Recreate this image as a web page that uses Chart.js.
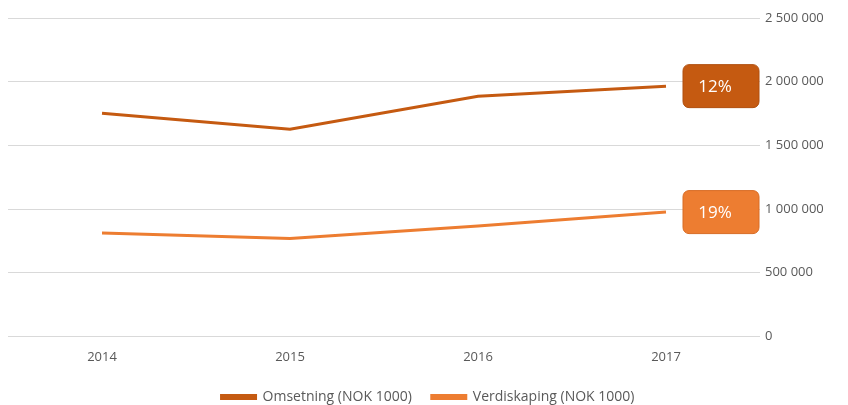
<!DOCTYPE html>
<html>
<head>
<meta charset="utf-8">
<script src="https://cdn.jsdelivr.net/npm/chart.js@4.4.1/dist/chart.umd.min.js"></script>
<style>
  html, body { margin: 0; padding: 0; background: #fff; }
  #wrap { width: 848px; height: 405px; }
</style>
</head>
<body>
<div id="wrap"><canvas id="lineChart"></canvas></div>
<script>
const years = ['2014', '2015', '2016', '2017'];
const omsetning = [1752000, 1626000, 1886000, 1965000];
const verdiskaping = [812000, 768000, 866000, 976000];
const growthLabels = ['12%', '19%'];
const seriesNames = ['Omsetning (NOK 1000)', 'Verdiskaping (NOK 1000)'];
const colors = ['#C55A11', '#ED7D31'];

// boxes with growth % next to the last point of each line
const endLabels = {
    id: 'endLabels',
    afterDatasetsDraw(chart) {
        const ctx = chart.ctx;
        chart.data.datasets.forEach((ds, i) => {
            const meta = chart.getDatasetMeta(i);
            const last = meta.data[meta.data.length - 1];
            const w = 76, h = 43;
            const x = last.x + 17;
            const y = last.y - h / 2;
            ctx.save();
            ctx.fillStyle = colors[i];
            ctx.strokeStyle = i === 0 ? '#B04F0E' : '#D86C25';
            ctx.lineWidth = 1;
            ctx.beginPath();
            ctx.roundRect(x, y, w, h, 6);
            ctx.fill();
            ctx.stroke();
            ctx.fillStyle = '#fff';
            ctx.font = '17px "Open Sans", sans-serif';
            ctx.textAlign = 'center';
            ctx.textBaseline = 'middle';
            ctx.fillText(growthLabels[i], x + w / 2 - 6, y + h / 2 + 1);
            ctx.restore();
        });
    }
};

const ctx = document.getElementById('lineChart').getContext('2d');

const chart = new Chart(ctx, {
    type: 'line',
    data: {
        labels: years,
        datasets: [{
            label: seriesNames[0],
            data: omsetning,
            borderColor: colors[0],
            backgroundColor: colors[0],
            borderWidth: 3,
            pointRadius: 0,
            tension: 0
        }, {
            label: seriesNames[1],
            data: verdiskaping,
            borderColor: colors[1],
            backgroundColor: colors[1],
            borderWidth: 3,
            pointRadius: 0,
            tension: 0
        }]
    },
    options: {
        responsive: true,
        maintainAspectRatio: false,
        animation: false,
        layout: { padding: { left: 8, top: 18, right: 0, bottom: -9 } },
        plugins: {
            legend: {
                position: 'bottom',
                labels: {
                    boxWidth: 34,
                    boxHeight: 3,
                    padding: 20,
                    color: '#595959',
                    font: { family: '"Open Sans", sans-serif', size: 14 }
                }
            },
            tooltip: { enabled: false }
        },
        scales: {
            x: {
                offset: true,
                grid: { display: false },
                border: { display: false },
                ticks: {
                    color: '#595959',
                    padding: 5,
                    font: { family: '"Open Sans", sans-serif', size: 13 }
                }
            },
            y: {
                position: 'right',
                min: 0,
                max: 2500000,
                afterFit: (scale) => { scale.width = 88; },
                grid: { color: '#D9D9D9', drawTicks: false },
                border: { display: false },
                ticks: {
                    stepSize: 500000,
                    padding: 5,
                    color: '#595959',
                    font: { family: '"Open Sans", sans-serif', size: 13 },
                    callback: (v) => v.toString().replace(/\B(?=(\d{3})+(?!\d))/g, ' ')
                }
            }
        }
    },
    plugins: [endLabels]
});
</script>
</body>
</html>
